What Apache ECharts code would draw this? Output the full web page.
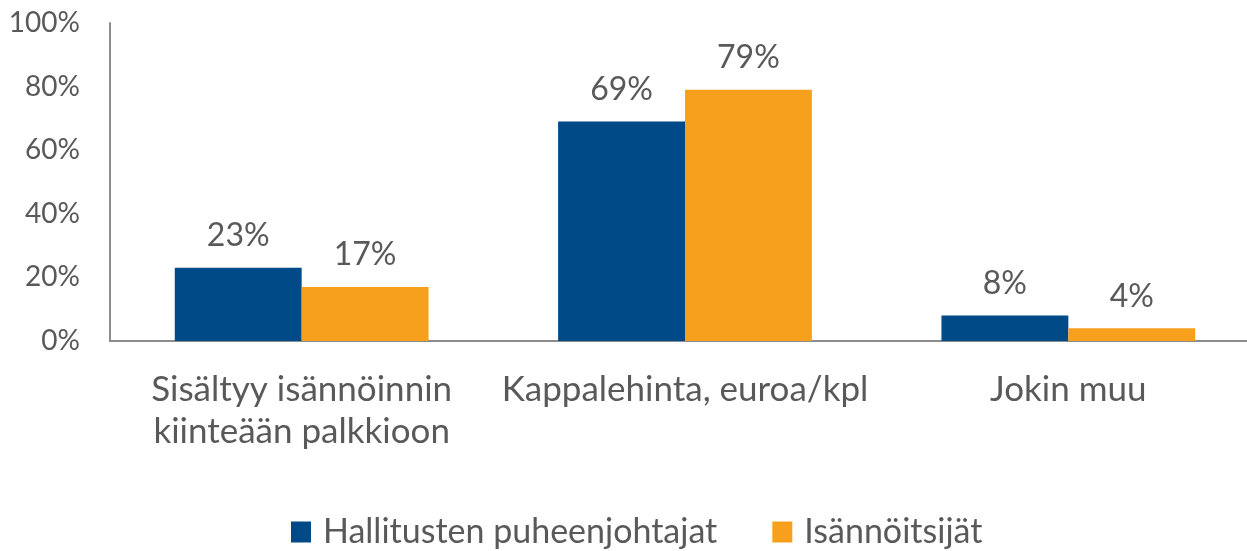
<!DOCTYPE html>
<html><head><meta charset="utf-8">
<script src="https://cdn.jsdelivr.net/npm/echarts@6/dist/echarts.min.js"></script>
<style>html,body{margin:0;padding:0;background:#fff;overflow:hidden;width:1247px;height:551px}#c{width:1260px;height:551px}</style>
</head><body><div id="c"></div>
<script>
const categories = ["Sisältyy isännöinnin\nkiinteään palkkioon", "Kappalehinta, euroa/kpl", "Jokin muu"];
const seriesNames = ["Hallitusten puheenjohtajat", "Isännöitsijät"];
const hallitus = [23, 69, 8];
const isannoitsijat = [17, 79, 4];
const yTicks = [0, 20, 40, 60, 80, 100];

const FONT = 'Lato';
const TXT = '#595959';
const chart = echarts.init(document.getElementById('c'), null, {renderer: 'canvas'});
const label = {show: true, position: 'top', distance: 16, formatter: '{c}%', color: TXT, fontSize: 32, fontFamily: FONT};
chart.setOption({
  animation: false,
  grid: {left: 110, right: 0, top: 23, bottom: 210, containLabel: false},
  legend: {
    top: 510, left: 286, itemWidth: 20, itemHeight: 21, itemGap: 55,
    icon: 'rect',
    textStyle: {color: TXT, fontSize: 34, fontFamily: FONT, padding: [0, 0, 0, 7]},
    data: seriesNames
  },
  xAxis: {
    type: 'category', data: categories,
    axisLine: {lineStyle: {color: '#8c8c8c', width: 2}},
    axisTick: {show: false},
    axisLabel: {color: TXT, fontSize: 35, fontFamily: FONT, lineHeight: 42, margin: 28, interval: 0}
  },
  yAxis: {
    type: 'value', min: 0, max: 100, interval: 20,
    axisLine: {show: true, lineStyle: {color: '#8c8c8c', width: 2}},
    axisTick: {show: false},
    splitLine: {show: false},
    axisLabel: {color: TXT, fontSize: 28, fontFamily: FONT, margin: 30, formatter: v => yTicks.includes(v) ? v + '%' : ''}
  },
  series: [
    {name: seriesNames[0], type: 'bar', data: hallitus, barWidth: '33.1%', barGap: '0%', itemStyle: {color: '#004A87'}, label},
    {name: seriesNames[1], type: 'bar', data: isannoitsijat, barWidth: '33.1%', barGap: '0%', itemStyle: {color: '#F6A01E'}, label}
  ]
});
</script></body></html>
